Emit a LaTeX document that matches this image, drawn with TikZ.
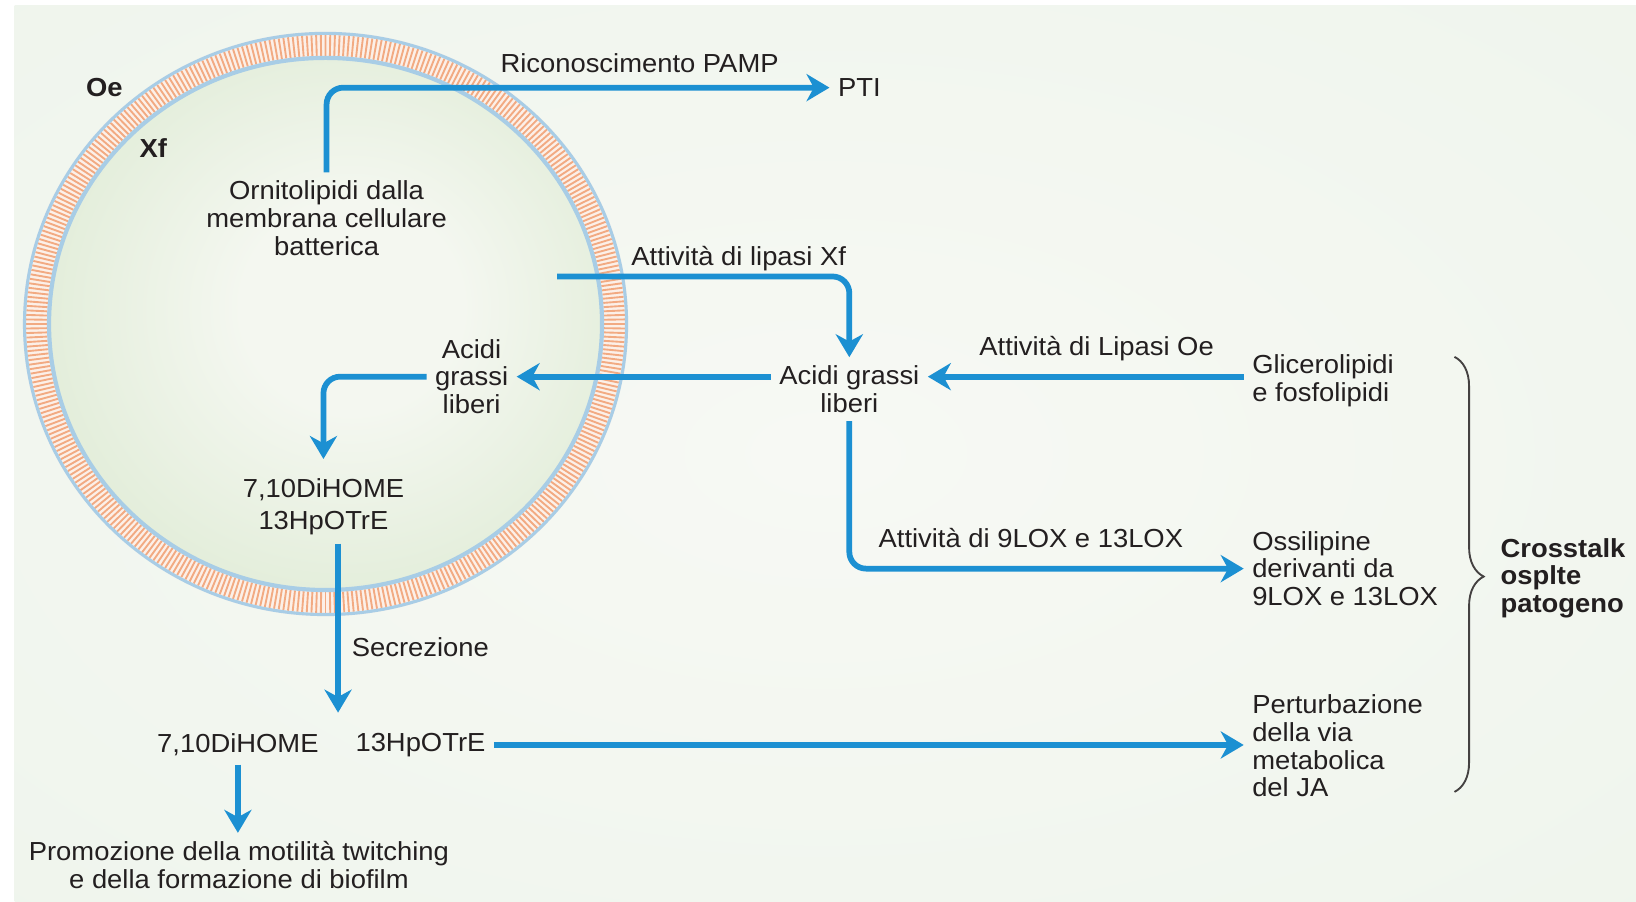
\documentclass[tikz,border=0pt]{standalone}
\usepackage{fontspec}
\setmainfont{Liberation Sans}[FakeStretch=1.05]
\usetikzlibrary{arrows.meta,decorations.pathreplacing}
\definecolor{flowblue}{RGB}{28,144,210}
\definecolor{txt}{RGB}{35,31,32}
\definecolor{bgin}{RGB}{247,249,244}
\definecolor{bgout}{RGB}{232,241,230}
\definecolor{cellin}{RGB}{244,247,240}
\definecolor{cellout}{RGB}{204,225,189}
\definecolor{memblue}{RGB}{168,205,230}
\definecolor{memorange}{RGB}{242,170,130}
\definecolor{mempale}{RGB}{252,240,232}
\pgfdeclareradialshading{cellshade}{\pgfpoint{3bp}{2bp}}{color(0bp)=(cellin); color(10bp)=(cellin); color(50bp)=(cellout)}
\pgfdeclareradialshading{bgshade}{\pgfpoint{0bp}{0bp}}{color(0bp)=(bgin); color(70bp)=(bgout)}
\begin{document}
\begin{tikzpicture}[x=1pt,y=-1pt,
	every node/.style={font=\fontsize{25}{26.5}\selectfont,text=txt,inner sep=3pt},
	boldtag/.style={font=\fontsize{25}{26.5}\selectfont\bfseries},
	flow/.style={draw=flowblue,line width=5.5pt,rounded corners=16pt,shorten >=5pt,shorten <=5pt,-{Stealth[length=22pt,width=26pt,inset=7pt]}}]
	\useasboundingbox (0,0) rectangle (1568,864);
	\fill[white] (0,0) rectangle (1568,864);
	\shade[shading=bgshade] (14,5) rectangle (1568,864);
	\fill[mempale,even odd rule] (312,310.5) ellipse [x radius=290,y radius=280] (312,310.5) ellipse [x radius=264,y radius=254];
	\foreach \i in {0,...,399}
		\draw[memorange,line width=1.8pt] ({312+267*cos(0.9*\i)},{310.5+257*sin(0.9*\i)}) -- ({312+287*cos(0.9*\i)},{310.5+277*sin(0.9*\i)});
	\draw[memblue,line width=3pt] (312,310.5) ellipse [x radius=288.5,y radius=278.5];
	\shade[shading=cellshade] (312,310.5) ellipse [x radius=264,y radius=254];
	\draw[memblue,line width=4pt] (312,310.5) ellipse [x radius=265,y radius=255];

	\node[boldtag] (oe) at (100,84) {Oe};
	\node[boldtag] (xf) at (147,142) {Xf};
	\node[align=center] (orn) at (313,209) {Ornitolipidi dalla\\membrana cellulare\\batterica};
	\node[anchor=west] (pti) at (800,84) {PTI};
	\node (ric) at (613,61) {Riconoscimento PAMP};
	\coordinate (lipstart) at (534,265);
	\node (lipxf) at (708,248) {Attività di lipasi Xf};
	\node[align=center] (fam) at (814,373) {Acidi grassi\\liberi};
	\node[align=center] (fai) at (452,361) {Acidi\\grassi\\liberi};
	\node[align=center] (dih) at (310,486) {7,10DiHOME\\[4pt]13HpOTrE};
	\node[anchor=west] (sec) at (334,620) {Secrezione};
	\coordinate (secend) at (324,688);
	\node (dhome) at (228,714) {7,10DiHOME};
	\node (hpotre) at (403,714) {13HpOTrE};
	\node[align=center] (prom) at (229,829) {Promozione della motilità twitching\\e della formazione di biofilm};
	\node (lipoe) at (1051,334) {Attività di Lipasi Oe};
	\node[anchor=west,align=left] (glic) at (1197,365) {Glicerolipidi\\e fosfolipidi};
	\node (lox) at (988,516) {Attività di 9LOX e 13LOX};
	\node[anchor=west,align=left] (ossi) at (1197,545) {Ossilipine\\derivanti da\\9LOX e 13LOX};
	\node[anchor=west,align=left] (pert) at (1197,715) {Perturbazione\\della via\\metabolica\\del JA};
	\node[anchor=west,align=left,boldtag] (cross) at (1435,554) {Crosstalk\\osplte\\patogeno};

	\draw[flow] (orn.north) |- (pti.west);
	\draw[flow,shorten <=0pt] (lipstart) -| (fam.north);
	\draw[flow] (fam.west |- fai.east) -- (fai.east);
	\draw[flow,shorten >=16pt] (fai.west) -| (dih.north);
	\draw[flow] (dih.south -| secend) -- (secend);
	\draw[flow] (hpotre.east) -- (hpotre.east -| pert.west);
	\draw[flow] (dhome.south) -- (dhome.south |- prom.north);
	\draw[flow] (glic.west |- fai.east) -- (fam.east |- fai.east);
	\draw[flow] (fam.south) |- (ossi.west);
	\draw[decorate,decoration={brace,amplitude=28pt,aspect=0.505},line width=1.8pt,draw=txt!85] (1394,342) -- (1394,759);
\end{tikzpicture}
\end{document}
